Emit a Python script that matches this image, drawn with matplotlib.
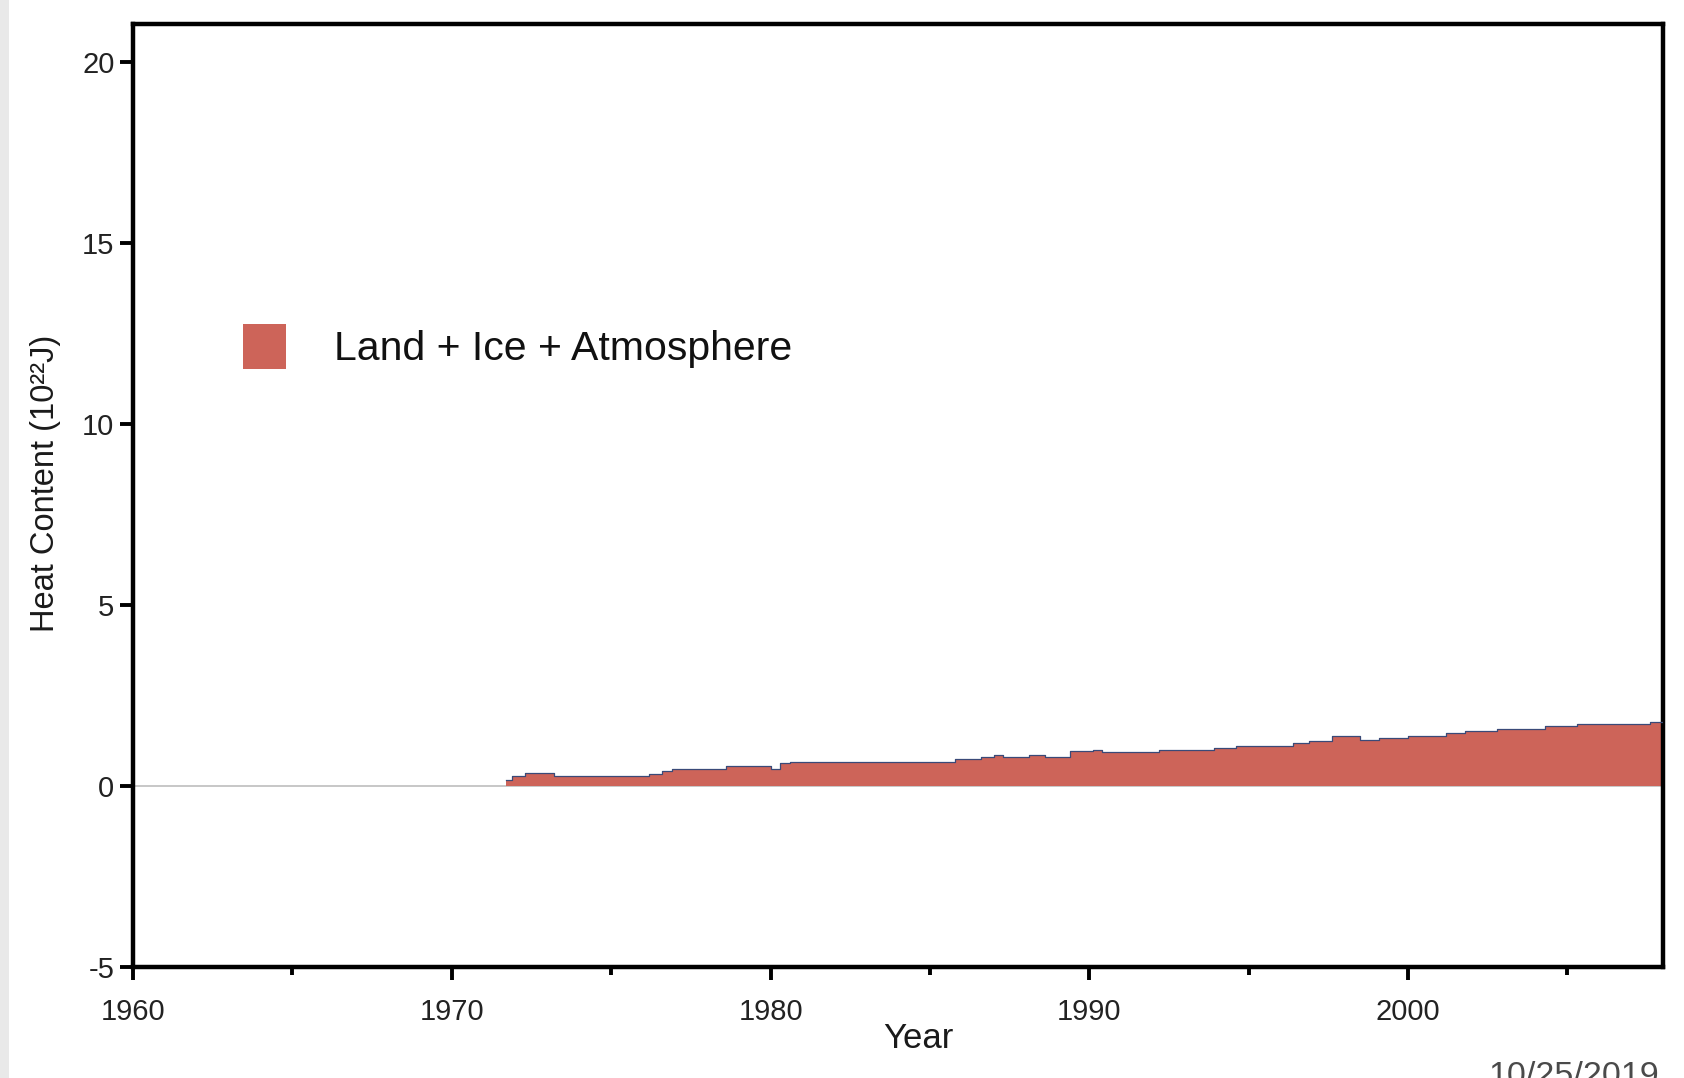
import matplotlib
matplotlib.use("Agg")
import matplotlib.pyplot as plt
from matplotlib.patches import Patch, Rectangle

plt.rcParams['font.family'] = ['Liberation Sans', 'DejaVu Sans']
plt.rcParams['axes.unicode_minus'] = False

# step edges (year) and heat content (10^22 J)
years = [1971.7, 1971.9, 1972.3, 1973.2, 1976.2, 1976.6, 1976.9, 1978.6,
         1980.0, 1980.3, 1980.6, 1985.8, 1986.6, 1987.0, 1987.3, 1988.1,
         1988.6, 1989.4, 1990.1, 1990.4, 1992.2, 1993.9, 1994.6, 1996.4,
         1996.9, 1997.6, 1998.5, 1999.1, 2000.0, 2001.2, 2001.8, 2002.8,
         2004.3, 2005.3, 2007.6, 2008.0]
heat = [0.15, 0.28, 0.35, 0.26, 0.33, 0.42, 0.48, 0.54,
        0.48, 0.62, 0.66, 0.74, 0.79, 0.86, 0.81, 0.86,
        0.81, 0.95, 1.00, 0.94, 0.98, 1.05, 1.11, 1.19,
        1.25, 1.37, 1.27, 1.31, 1.38, 1.46, 1.52, 1.57,
        1.64, 1.71, 1.76, 1.76]

label = 'Land + Ice + Atmosphere'
xticks = [1960, 1970, 1980, 1990, 2000]
xminor = [1965, 1975, 1985, 1995, 2005]
yticks = [-5, 0, 5, 10, 15, 20]

fill_col = '#cd6459'

fig = plt.figure(figsize=(16.84, 10.78), dpi=100)
fig.patch.set_facecolor('white')
# light grey slide border on the left
fig.add_artist(Rectangle((0, 0), 9 / 1684, 1, transform=fig.transFigure,
                         facecolor='#e9e9e9', edgecolor='none'))

ax = fig.add_axes([0.079, 0.103, 0.9086, 0.8748])
ax.axhline(0, color='#bdbdbd', lw=1.2, zorder=1)
ax.fill_between(years, heat, 0, step='post', color=fill_col, lw=0, zorder=2)
ax.step(years, heat, where='post', color='#3a4a78', lw=0.9, zorder=3)

ax.set_xlim(1960, 2008)
ax.set_ylim(-5, 21.04)
ax.set_xticks(xticks)
ax.set_xticks(xminor, minor=True)
ax.set_yticks(yticks)

for s in ax.spines.values():
    s.set_linewidth(3.2)
    s.set_color('black')

ax.tick_params(axis='both', which='major', direction='out', length=9.4,
               width=2.8, color='black', labelcolor='#222222', labelsize=21)
ax.tick_params(axis='x', which='minor', direction='out', length=6, width=2.8)
ax.tick_params(axis='x', which='major', pad=13)
ax.tick_params(axis='y', which='major', pad=4)

ax.set_xlabel('Year', fontsize=25, color='#1a1a1a')
ax.xaxis.set_label_coords(0.513, -0.058)
ax.set_ylabel('Heat Content (10²²J)', fontsize=23.5, color='#1a1a1a')
ax.yaxis.label.set_va('center')
ax.yaxis.set_label_coords(-0.057, 0.513)

ax.legend(handles=[Patch(facecolor=fill_col, edgecolor='none', label=label)],
          loc='center left', bbox_to_anchor=(0.0719, 0.658), frameon=False,
          fontsize=29.5, handlelength=1.05, handleheight=1.31,
          handletextpad=1.17, borderpad=0, borderaxespad=0,
          labelcolor='#111111')

fig.text(0.8836, 0.0158, '10/25/2019', ha='left', va='top', fontsize=24.5,
         color='#4a4a4a')

fig.savefig('out.png', dpi=100)
